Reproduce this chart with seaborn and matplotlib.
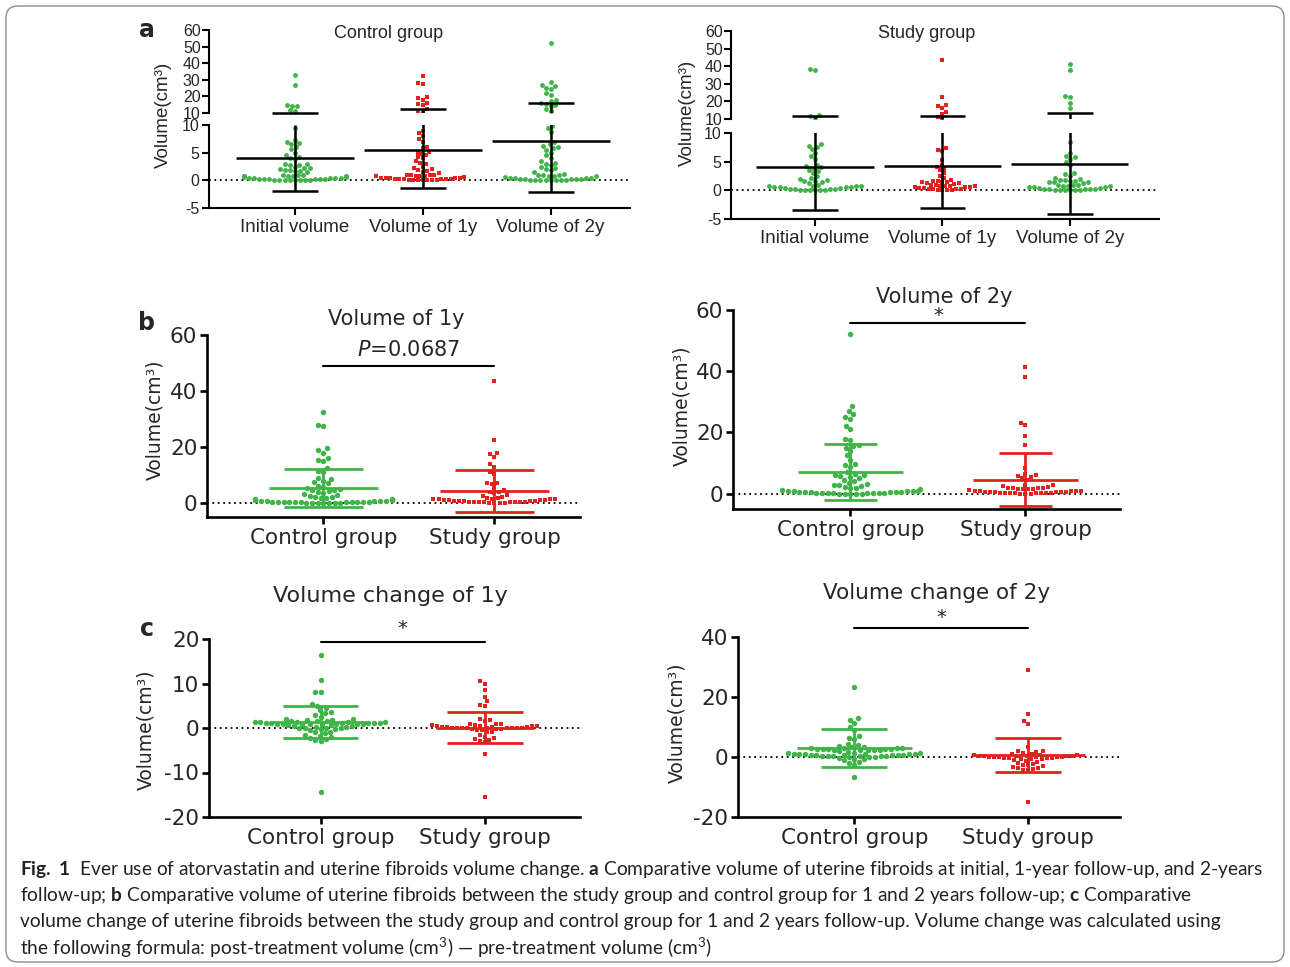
import matplotlib.pyplot as plt
import seaborn as sns
import pandas as pd
from matplotlib.patches import FancyBboxPatch
from matplotlib.transforms import IdentityTransform

# ---- data (cm^3) ----
cats_a = ['Initial volume', 'Volume of 1y', 'Volume of 2y']
cats_b = ['Control group', 'Study group']

control_initial = [33.0, 27.0, 15.0, 14.5, 14.0, 12.0, 11.5,
                   9.5, 7.3, 7.0, 6.7, 6.5, 6.0, 5.6, 5.0, 4.5, 4.2, 4.0, 3.8,
                   3.0, 2.9, 2.8, 2.7, 2.5, 2.3, 2.2, 2.0, 1.9, 1.8, 1.7, 1.6, 1.5,
                   1.0, 0.9, 0.9, 0.8, 0.8, 0.8, 0.7, 0.7, 0.7, 0.6, 0.6, 0.5, 0.5, 0.5,
                   0.4, 0.4, 0.3, 0.3, 0.3, 0.2, 0.2, 0.2, 0.1, 0.1, 0.1, 0.1, 0.05, 0.05, 0.0, 0.0]
control_1y = [32.5, 28.0, 27.5, 19.5, 19.0, 18.0, 16.0, 15.5, 15.0, 12.5, 11.5, 11.0,
              9.0, 8.5, 8.0, 7.5, 7.0, 6.0, 5.8, 5.2, 5.0, 4.8, 4.5, 4.2, 4.0, 3.5, 3.2, 3.0,
              2.5, 2.2, 2.0, 1.8, 1.7, 1.5, 1.3, 1.0, 1.0, 0.9, 0.9, 0.8, 0.8, 0.7, 0.7,
              0.6, 0.5, 0.5, 0.5, 0.4, 0.4, 0.3, 0.3, 0.3, 0.2, 0.2, 0.2, 0.1, 0.1, 0.1, 0.05, 0.05, 0.0, 0.0]
control_2y = [52.0, 28.5, 27.0, 26.0, 25.0, 24.5, 22.0, 21.0, 18.0, 17.5, 16.0, 15.5, 15.0, 14.0, 12.5, 11.0,
              9.8, 9.5, 8.8, 7.0, 6.5, 6.2, 6.0, 5.8, 5.5, 5.0, 4.5, 4.0, 3.5, 3.2, 3.0, 2.8,
              2.5, 2.2, 2.0, 1.8, 1.5, 1.2, 1.0, 1.0, 0.9, 0.8, 0.8, 0.7, 0.6, 0.5, 0.5,
              0.4, 0.4, 0.3, 0.3, 0.2, 0.2, 0.2, 0.1, 0.1, 0.1, 0.05, 0.05, 0.0, 0.0, 0.0]
study_initial = [38.5, 38.0, 12.0, 11.5, 10.5, 8.0, 7.8, 7.5, 7.2, 6.5, 6.0, 5.5, 4.5, 4.2, 4.0, 3.8, 3.5, 3.3,
                 3.0, 2.5, 2.2, 2.0, 1.8, 1.7, 1.6, 1.5, 1.2, 1.0, 0.8, 0.8, 0.7, 0.7, 0.6, 0.6, 0.5, 0.5,
                 0.4, 0.4, 0.3, 0.3, 0.2, 0.2, 0.1, 0.1, 0.1, 0.05, 0.05, 0.0]
study_1y = [43.5, 22.5, 18.0, 17.5, 16.5, 14.0, 13.0, 11.0, 10.5, 7.3, 7.0, 6.8, 5.3, 4.5, 4.0, 3.8, 3.5, 3.0,
            2.5, 2.2, 1.8, 1.7, 1.6, 1.5, 1.5, 1.4, 1.3, 1.2, 1.1, 1.0, 0.9, 0.8, 0.8, 0.7, 0.7, 0.6,
            0.5, 0.5, 0.4, 0.4, 0.3, 0.3, 0.2, 0.2, 0.1, 0.1, 0.05, 0.0]
study_2y = [41.5, 38.0, 23.0, 22.5, 19.0, 16.0, 8.5, 6.5, 6.0, 5.8, 5.5, 5.0, 4.5, 3.0, 2.8, 2.5, 2.2, 2.0,
            1.8, 1.8, 1.7, 1.6, 1.5, 1.5, 1.4, 1.2, 1.0, 1.0, 0.9, 0.8, 0.8, 0.7, 0.6, 0.5, 0.5, 0.4,
            0.4, 0.3, 0.3, 0.2, 0.2, 0.2, 0.1, 0.1, 0.1, 0.05, 0.0, 0.0]

change_1y_control = [16.5, 10.7, 8.2, 8.0, 5.3, 5.0, 4.5, 4.0, 3.5, 3.3, 3.0, 2.5, 2.0, 2.0, 1.9, 1.8,
                     1.6, 1.5, 1.5, 1.4, 1.4, 1.3, 1.3, 1.3, 1.2, 1.2, 1.2, 1.1, 1.1, 1.1, 1.0, 1.0, 1.0, 1.0,
                     0.9, 0.9, 0.8, 0.8, 0.7, 0.6, 0.5, 0.4, 0.3, 0.2, 0.1, 0.0, 0.0, -0.1, -0.2, -0.3, -0.5,
                     -0.8, -1.0, -1.2, -1.5, -1.8, -2.0, -2.2, -2.5, -2.8, -3.0, -14.3]
change_1y_study = [10.5, 10.0, 8.5, 7.0, 6.0, 5.2, 5.0, 2.0, 1.8, 1.5, 1.0, 0.9, 0.8, 0.7, 0.6, 0.5, 0.5, 0.4,
                   0.4, 0.3, 0.3, 0.2, 0.2, 0.1, 0.1, 0.0, 0.0, 0.0, -0.1, -0.1, -0.2, -0.2, -0.3, -0.4, -0.5,
                   -0.8, -1.0, -1.5, -2.0, -2.2, -2.5, -2.7, -3.0, -3.2, -5.8, -15.5, 0.0, 0.1]
change_2y_control = [23.5, 13.0, 12.5, 11.5, 10.0, 9.0, 7.0, 6.5, 6.0, 4.5, 4.0, 3.8, 3.5,
                     3.2, 3.0, 3.0, 3.0, 2.8, 2.8, 2.7, 2.6, 2.5, 2.5, 2.5, 2.4, 2.2, 2.0, 1.8, 1.5,
                     1.2, 1.1, 1.0, 1.0, 1.0, 0.9, 0.9, 0.8, 0.8, 0.7, 0.6, 0.5, 0.5, 0.4, 0.3, 0.2, 0.1, 0.0, 0.0,
                     -0.2, -0.5, -0.8, -1.0, -1.5, -2.0, -2.5, -6.5, 0.6, 0.7, 0.4, 1.2, 2.9, 2.6]
change_2y_study = [29.0, 14.5, 12.0, 11.0, 3.5, 2.0, 2.0, 1.8, 1.5, 1.0, 0.8, 0.6, 0.5, 0.4, 0.3, 0.2, 0.1,
                   0.0, 0.0, -0.1, -0.2, -0.3, -0.4, -0.5, -0.6, -0.8, -1.0, -1.2, -1.5, -2.0, -2.2, -2.5,
                   -2.7, -3.0, -3.2, -3.5, -3.8, -4.0, -4.2, -4.4, -15.0, 0.7, 0.9, 0.2, -0.2, 0.0, -0.1, 0.3]

# mean and SD bars
control_mean = [4.0, 5.4, 7.1]
control_sd = [6.0, 6.8, 9.2]
study_mean = [4.1, 4.3, 4.6]
study_sd = [7.5, 7.4, 8.7]
change_mean_control = [1.3, 3.0]
change_sd_control = [3.6, 6.3]
change_mean_study = [0.1, 0.6]
change_sd_study = [3.5, 5.6]

GREEN = '#3fb449'
RED = '#e0231e'

sns.set_style('ticks')
plt.rcParams['font.family'] = ['Liberation Sans', 'DejaVu Sans']
plt.rcParams['axes.unicode_minus'] = False
plt.rcParams['mathtext.fontset'] = 'custom'
plt.rcParams['mathtext.default'] = 'regular'
plt.rcParams['mathtext.rm'] = 'Lato'
plt.rcParams['mathtext.bf'] = 'Lato:bold'
plt.rcParams['mathtext.it'] = 'Lato:italic'

W, H = 1290, 967
fig = plt.figure(figsize=(W / 100, H / 100), dpi=100)


def add_ax(l, t, r, b):
    return fig.add_axes([l / W, 1 - b / H, (r - l) / W, (b - t) / H])


def ftext(x, y, s, **kw):
    fig.text(x / W, 1 - y / H, s, ha=kw.pop('ha', 'center'), va=kw.pop('va', 'center'), **kw)


def swarm(ax, values, label, order, color, marker, size):
    df = pd.DataFrame({'group': [label] * len(values), 'vol': values})
    sns.swarmplot(data=df, x='group', y='vol', order=order, color=color, marker=marker,
                  size=size, linewidth=0, ax=ax, warn_thresh=1, zorder=2)


def mean_sd(ax, pos, m, s, color, mw, cw, lw, lo=-1e9, hi=1e9, clip=True):
    # horizontal marks only where they fall inside this axis' range
    if lo <= m <= hi:
        ax.hlines(m, pos - mw, pos + mw, colors=color, lw=lw, zorder=3, clip_on=clip)
    ax.vlines(pos, m - s, m + s, colors=color, lw=lw, zorder=3)
    caps = [c for c in (m - s, m + s) if lo <= c <= hi]
    if caps:
        ax.hlines(caps, pos - cw, pos + cw, colors=color, lw=lw, zorder=3, clip_on=clip)


def style(ax, lw, fs, family):
    sns.despine(ax=ax)
    for sp in ('left', 'bottom'):
        ax.spines[sp].set_linewidth(lw)
        ax.spines[sp].set_color('black')
    ax.tick_params(width=lw, length=5, labelsize=fs, color='black', pad=2)
    for lab in ax.get_xticklabels() + ax.get_yticklabels():
        lab.set_family(family)
    ax.set_xlabel('')
    ax.set_ylabel('')


# ---- panel a: broken y axes ----
def panel_a(up, lo, groups, colors, markers, means, sds, xlim):
    ax_u = add_ax(*up)
    ax_l = add_ax(*lo)
    for i, vals in enumerate(groups):
        sz = 3.5 if markers[i] == 'o' else 3.2
        swarm(ax_u, [v for v in vals if v >= 10], cats_a[i], cats_a, colors[i], markers[i], sz)
        swarm(ax_l, [v for v in vals if v < 10], cats_a[i], cats_a, colors[i], markers[i], sz)
        mean_sd(ax_u, i, means[i], sds[i], 'black', 0.46, 0.18, 1.8, lo=9.9, hi=60, clip=False)
        mean_sd(ax_l, i, means[i], sds[i], 'black', 0.46, 0.18, 1.8, lo=-5, hi=9.9)
    ax_u.set_ylim(10, 60)
    ax_u.set_yticks([10, 20, 30, 40, 50, 60])
    ax_l.set_ylim(-5, 10)
    ax_l.set_yticks([-5, 0, 5, 10])
    ax_l.axhline(0, ls=(0, (1, 2)), color='black', lw=1.3, zorder=1)
    for ax in (ax_u, ax_l):
        ax.set_xlim(*xlim)
        style(ax, 1.5, 11.5, 'Liberation Sans')
    ax_u.spines['bottom'].set_visible(False)
    ax_u.tick_params(axis='x', bottom=False, labelbottom=False)
    ax_u.tick_params(axis='y', pad=1)
    ax_l.tick_params(axis='x', labelsize=13.5, pad=3)


panel_a((209, 30, 630, 113), (209, 125, 630, 208),
        [control_initial, control_1y, control_2y], [GREEN, RED, GREEN], ['o', 's', 'o'],
        control_mean, control_sd, (-0.67, 2.62))
panel_a((731, 31, 1159, 119), (731, 133, 1159, 219),
        [study_initial, study_1y, study_2y], [GREEN, RED, GREEN], ['o', 's', 'o'],
        study_mean, study_sd, (-0.66, 2.70))

ftext(389, 33, 'Control group', fontsize=13)
ftext(927, 33, 'Study group', fontsize=13)
ftext(163, 115, 'Volume(cm³)', fontsize=13.5, rotation=90)
ftext(687, 113, 'Volume(cm³)', fontsize=13.5, rotation=90)


# ---- panels b and c ----
def panel_bc(box, ctrl, study, means, sds, ylim, yticks, xlim, mw, cw):
    ax = add_ax(*box)
    swarm(ax, ctrl, cats_b[0], cats_b, GREEN, 'o', 3.9)
    swarm(ax, study, cats_b[1], cats_b, RED, 's', 3.5)
    mean_sd(ax, 0, means[0], sds[0], GREEN, mw, cw, 2.0)
    mean_sd(ax, 1, means[1], sds[1], RED, mw, cw, 2.0)
    ax.axhline(0, ls=(0, (1, 2)), color='black', lw=1.3, zorder=1)
    ax.set_ylim(*ylim)
    ax.set_yticks(yticks)
    ax.set_xlim(*xlim)
    style(ax, 1.9, 15.5, 'DejaVu Sans')
    ax.tick_params(axis='x', labelsize=15.5, pad=3)
    return ax


def sig_bar(ax, y, ty, label, fs, **kw):
    ax.plot([0, 1], [y, y], color='black', lw=1.5, clip_on=False)
    ax.text(0.5, ty, label, ha='center', va='center', fontsize=fs, family='DejaVu Sans', clip_on=False, **kw)


ax = panel_bc((207, 335, 580, 517), control_1y, study_1y,
              [control_mean[1], study_mean[1]], [control_sd[1], study_sd[1]],
              (-5, 60), [0, 20, 40, 60], (-0.68, 1.50), 0.32, 0.23)
sig_bar(ax, 49, 54.5, r'$\it{P}$=0.0687', 15, math_fontfamily='dejavusans')
ax = panel_bc((733, 310, 1120, 509), control_2y, study_2y,
              [control_mean[2], study_mean[2]], [control_sd[2], study_sd[2]],
              (-5, 60), [0, 20, 40, 60], (-0.67, 1.54), 0.30, 0.15)
sig_bar(ax, 55.7, 58.3, '*', 14)
ax = panel_bc((209, 639, 580, 817), change_1y_control, change_1y_study,
              [change_mean_control[0], change_mean_study[0]], [change_sd_control[0], change_sd_study[0]],
              (-20, 20), [-20, -10, 0, 10, 20], (-0.68, 1.58), 0.30, 0.23)
sig_bar(ax, 19.3, 22.3, '*', 14)
ax = panel_bc((738, 637, 1120, 817), change_2y_control, change_2y_study,
              [change_mean_control[1], change_mean_study[1]], [change_sd_control[1], change_sd_study[1]],
              (-20, 40), [-20, 0, 20, 40], (-0.67, 1.53), 0.33, 0.19)
sig_bar(ax, 43, 46.5, '*', 14)

ftext(396, 319, 'Volume of 1y', fontsize=15, family='DejaVu Sans')
ftext(944, 297, 'Volume of 2y', fontsize=15, family='DejaVu Sans')
ftext(390, 596, 'Volume change of 1y', fontsize=16, family='DejaVu Sans')
ftext(937, 593, 'Volume change of 2y', fontsize=15.5, family='DejaVu Sans')
for x, y in [(155, 420), (682, 406), (146, 730), (677, 723)]:
    ftext(x, y, 'Volume(cm³)', fontsize=13.5, rotation=90, family='DejaVu Sans')

for lab, y in [('a', 30), ('b', 323), ('c', 629)]:
    ftext(147, y, lab, fontsize=17, fontweight='bold', family='DejaVu Sans')

# ---- caption ----
caption = [
    r'$\bf{Fig.\ 1}$  Ever use of atorvastatin and uterine fibroids volume change. $\bf{a}$ Comparative volume '
    r'of uterine fibroids at initial, 1-year follow-up, and 2-years',
    r'follow-up; $\bf{b}$ Comparative volume of uterine fibroids between the study group and control group '
    r'for 1 and 2 years follow-up; $\bf{c}$ Comparative',
    'volume change of uterine fibroids between the study group and control group for 1 and 2 years '
    'follow-up. Volume change was calculated using',
    r'the following formula: post-treatment volume (cm$^3$) — pre-treatment volume (cm$^3$)',
]
for i, line in enumerate(caption):
    ftext(20, 870 + 26 * i, line, ha='left', fontsize=13.75, color='#222222',
          family=['Lato', 'DejaVu Sans'], math_fontfamily='custom')

fig.add_artist(FancyBboxPatch((6, 5), 1278, 956, boxstyle='round,pad=0,rounding_size=12',
                              transform=IdentityTransform(), fill=False, ec='#8c8c8c', lw=1.0))

fig.savefig('out.png', dpi=100)
plt.close(fig)
